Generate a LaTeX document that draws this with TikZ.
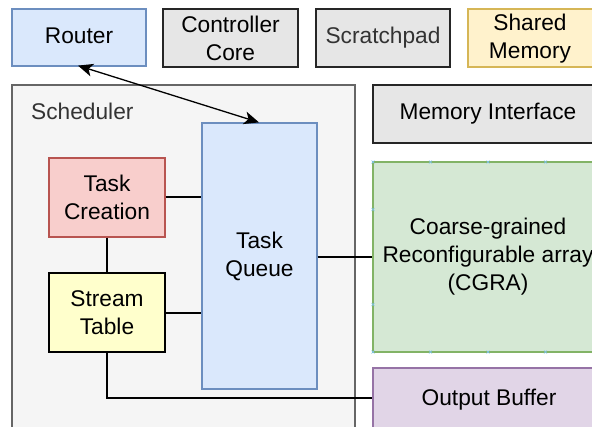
\documentclass[tikz,border=0pt]{standalone}
\usepackage{fontspec}
\setmainfont{Liberation Sans}
\usetikzlibrary{calc}
\definecolor{blueFill}{HTML}{DAE8FC}
\definecolor{blueLine}{HTML}{6C8EBF}
\definecolor{greyFill}{HTML}{E6E6E6}
\definecolor{schedFill}{HTML}{F5F5F5}
\definecolor{schedLine}{HTML}{666666}
\definecolor{softText}{HTML}{333333}
\definecolor{yellowFill}{HTML}{FFF2CC}
\definecolor{yellowLine}{HTML}{D6B656}
\definecolor{redFill}{HTML}{F8CECC}
\definecolor{redLine}{HTML}{B85450}
\definecolor{paleYellow}{HTML}{FFFFCC}
\definecolor{greenFill}{HTML}{D5E8D4}
\definecolor{greenLine}{HTML}{82B366}
\definecolor{purpleFill}{HTML}{E1D5E7}
\definecolor{purpleLine}{HTML}{9673A6}
\definecolor{pinColor}{HTML}{7FC4EE}
\tikzset{
  labelfont/.style={font=\fontsize{22.8}{28}\selectfont},
  box/.style={draw, line width=1.2bp, inner sep=0pt, align=center, labelfont},
  wire/.style={line width=1.3bp, black},
  pin/.style={pinColor, line width=0.6bp},
}
% small blue cross marking a connection point
\newcommand{\pinmark}[1]{\draw[pin] ($(#1)+(-1.5,-1.5)$) -- ($(#1)+(1.5,1.5)$) ($(#1)+(-1.5,1.5)$) -- ($(#1)+(1.5,-1.5)$);}
% classic filled arrow head at #1 pointing away from #2
\newcommand{\headat}[2]{\fill[black] (#1) -- ($(#1)!15bp!(#2)!6.5bp!90:(#2)$) -- ($(#1)!11bp!(#2)$) -- ($(#1)!15bp!(#2)!6.5bp!-90:(#2)$) -- cycle;}
\begin{document}
\begin{tikzpicture}[x=1bp, y=-1bp]
\useasboundingbox (0,0) rectangle (592,426);
\fill[white] (0,0) rectangle (592,426);

% top row
\node[box, fill=blueFill, draw=blueLine, minimum width=134bp, minimum height=57bp] (router) at (79,37.5) {\strut Router};
\node[box, fill=greyFill, draw=black!85, minimum width=135bp, minimum height=58bp] (ctrl) at (230.5,38) {Controller\\Core};
\node[box, fill=greyFill, draw=black!85, text=softText, minimum width=134bp, minimum height=58bp] (scratch) at (383,38) {\strut Scratchpad};
\node[box, fill=yellowFill, draw=yellowLine, minimum width=134bp, minimum height=58bp] (shared) at (535,38) {};
\node[labelfont, align=center, inner sep=0pt] (sharedText) at (530,38.5) {Shared\\Memory};

% scheduler container
\node[draw=schedLine, fill=schedFill, line width=1.2bp, minimum width=343bp, minimum height=355bp, inner sep=0pt] (sched) at (183.5,262.5) {};
\node[anchor=base west, inner sep=0pt, text=softText, labelfont] (schedLabel) at (31,119) {Scheduler};

\node[box, fill=blueFill, draw=blueLine, minimum width=115bp, minimum height=266bp] (queue) at (259.5,256) {Task\\Queue};
\node[box, fill=redFill, draw=redLine, minimum width=116bp, minimum height=79bp] (create) at (107,197.5) {Task\\Creation};
\node[box, fill=paleYellow, draw=black, minimum width=116bp, minimum height=79bp] (stream) at (107,312.5) {Stream\\Table};

% right column
\node[box, fill=greyFill, draw=black!85, minimum width=230bp, minimum height=58bp] (memif) at (488,114) {\strut Memory Interface};
\node[box, fill=greenFill, draw=greenLine, minimum width=230bp, minimum height=190bp] (cgra) at (488,257) {Coarse-grained\\Reconfigurable array\\(CGRA)};
\node[box, fill=purpleFill, draw=purpleLine, minimum width=230bp, minimum height=64bp] (outbuf) at (488,400) {};
\node[inner sep=0pt, labelfont] (outText) at (489,400) {\strut Output Buffer};

% connection points on the array
\foreach \px in {373,430.5,488,545.5}{
  \pinmark{\px,162}
  \pinmark{\px,352}
}
\foreach \py in {209.5,304.5}{
  \pinmark{373,\py}
}

% connectors
\coordinate (rTip) at ($(router.south)+(-1,-1)$);
\coordinate (qTip) at ($(queue.north)+(-0.5,0)$);
\draw[wire] ($(rTip)!10bp!(qTip)$) -- ($(qTip)!10bp!(rTip)$);
\headat{rTip}{qTip}
\headat{qTip}{rTip}
\draw[wire] (create.east |- 0,197) -- (queue.west |- 0,197);
\draw[wire] (stream.east |- 0,313) -- (queue.west |- 0,313);
\draw[wire] (create.south) -- (stream.north);
\draw[wire] (queue.east |- 0,257) -- (cgra.west |- 0,257);
\draw[wire] (stream.south) |- (outbuf.west |- 0,398);
\end{tikzpicture}
\end{document}
